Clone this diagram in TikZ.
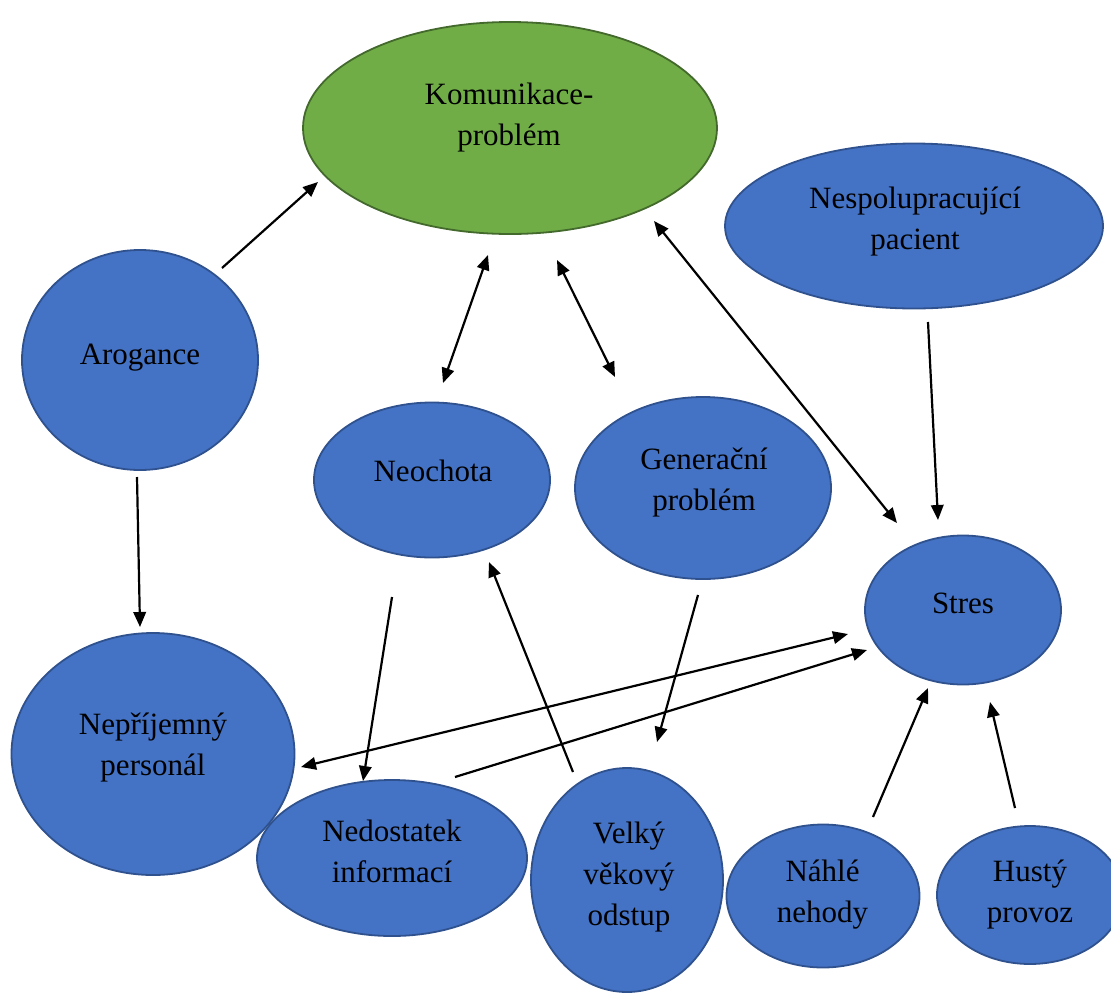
\documentclass[tikz,border=0pt]{standalone}
\usepackage{fontspec}
\setmainfont{Liberation Serif}
\usetikzlibrary{arrows.meta,shapes.geometric}
\definecolor{bfill}{HTML}{4472C4}
\definecolor{bline}{HTML}{2F528F}
\definecolor{gfill}{HTML}{70AD47}
\definecolor{gline}{HTML}{43692C}
\tikzset{
  bubble/.style={ellipse, draw=bline, fill=bfill, line width=1.8pt, inner sep=0pt},
  greenbubble/.style={bubble, draw=gline, fill=gfill},
  txt/.style={align=center, inner sep=0pt, text=black},
  conn/.style={line width=2.2pt, -{Triangle[length=15pt,width=12.5pt]}},
  dconn/.style={line width=2.2pt, {Triangle[length=15pt,width=12.5pt]}-{Triangle[length=15pt,width=12.5pt]}},
}
\begin{document}
\begin{tikzpicture}[x=1pt, y=-1pt, font=\fontsize{31}{41}\selectfont]
\useasboundingbox (0,0) rectangle (1111,994);
% bubbles
\node[greenbubble, minimum width=414pt, minimum height=212pt] (kom) at (510,128) {};
\node[bubble, minimum width=378pt, minimum height=165pt] (nesp) at (914,226) {};
\node[bubble, minimum width=236pt, minimum height=220pt] (aro) at (140,360) {};
\node[bubble, minimum width=236pt, minimum height=155pt] (neo) at (432,480) {};
\node[bubble, minimum width=256pt, minimum height=182pt] (gen) at (703,488) {};
\node[bubble, minimum width=196pt, minimum height=149pt] (stres) at (963,610) {};
\node[bubble, minimum width=283pt, minimum height=242pt] (nep) at (153,754) {};
\node[bubble, minimum width=270pt, minimum height=156pt] (ned) at (392,858) {};
\node[bubble, minimum width=192pt, minimum height=224pt] (vel) at (627,880) {};
\node[bubble, minimum width=193pt, minimum height=143pt] (nah) at (823,896) {};
\node[bubble, minimum width=186pt, minimum height=138pt] (hus) at (1030,895) {};
% texts
\node[txt] (kom-t) at (509,117.5) {Komunikace-\\problém};
\node[txt] (nesp-t) at (915,222) {Nespolupracující\\pacient};
\node[txt] (aro-t) at (140,358) {Arogance};
\node[txt] (neo-t) at (433,471) {Neochota};
\node[txt] (gen-t) at (704,483) {Generační\\problém};
\node[txt] (stres-t) at (963,603) {Stres};
\node[txt] (nep-t) at (153,748) {Nepříjemný\\personál};
\node[txt] (ned-t) at (392,851) {Nedostatek\\informací};
\node[txt] (vel-t) at (629,877.5) {Velký\\věkový\\odstup};
\node[txt] (nah-t) at (822.5,895) {Náhlé\\nehody};
\node[txt] (hus-t) at (1030,895) {Hustý\\provoz};
% connector end points
\coordinate (aro-kom-s) at (222,268);   \coordinate (aro-kom-e) at (318,182);
\coordinate (kom-neo-s) at (488,255);   \coordinate (kom-neo-e) at (443,383);
\coordinate (kom-gen-s) at (557,260);   \coordinate (kom-gen-e) at (615,377);
\coordinate (kom-str-s) at (654,221);   \coordinate (kom-str-e) at (897,523);
\coordinate (nesp-str-s) at (928,322);  \coordinate (nesp-str-e) at (938,520);
\coordinate (aro-nep-s) at (137,477);   \coordinate (aro-nep-e) at (140,627);
\coordinate (nep-str-s) at (301,767);   \coordinate (nep-str-e) at (848,634);
\coordinate (ned-str-s) at (455,777);   \coordinate (ned-str-e) at (867,650);
\coordinate (neo-ned-s) at (392,597);   \coordinate (neo-ned-e) at (363,781);
\coordinate (vel-neo-s) at (573,772);   \coordinate (vel-neo-e) at (489,562);
\coordinate (gen-vel-s) at (698,595);   \coordinate (gen-vel-e) at (657,742);
\coordinate (nah-str-s) at (873,817);   \coordinate (nah-str-e) at (928,688);
\coordinate (hus-str-s) at (1015,808);  \coordinate (hus-str-e) at (990,702);
% connectors
\draw[conn] (aro-kom-s) -- (aro-kom-e);
\draw[dconn] (kom-neo-s) -- (kom-neo-e);
\draw[dconn] (kom-gen-s) -- (kom-gen-e);
\draw[dconn] (kom-str-s) -- (kom-str-e);
\draw[conn] (nesp-str-s) -- (nesp-str-e);
\draw[conn] (aro-nep-s) -- (aro-nep-e);
\draw[dconn] (nep-str-s) -- (nep-str-e);
\draw[conn] (ned-str-s) -- (ned-str-e);
\draw[conn] (neo-ned-s) -- (neo-ned-e);
\draw[conn] (vel-neo-s) -- (vel-neo-e);
\draw[conn] (gen-vel-s) -- (gen-vel-e);
\draw[conn] (nah-str-s) -- (nah-str-e);
\draw[conn] (hus-str-s) -- (hus-str-e);
\end{tikzpicture}
\end{document}
